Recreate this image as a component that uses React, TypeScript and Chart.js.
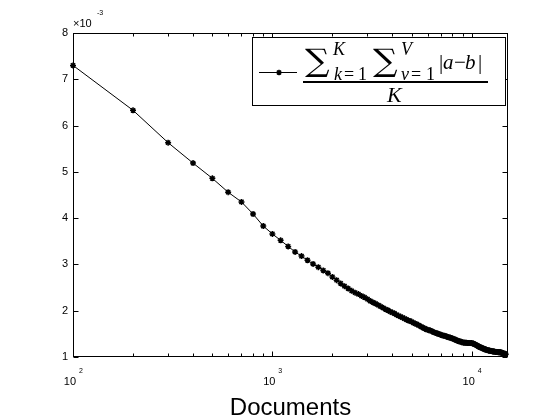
import React, { useEffect, useRef } from "react";
import { Chart, registerables } from "chart.js";

Chart.register(...registerables);

// Number of documents (x axis, logarithmic)
const documents: number[] = [
  100, 200, 300, 400, 500, 600, 700, 800, 900, 1000,
  1100, 1200, 1300, 1400, 1500, 1600, 1700, 1800, 1900, 2000,
  2100, 2200, 2300, 2400, 2500, 2600, 2700, 2800, 2900, 3000,
  3100, 3200, 3300, 3400, 3500, 3600, 3700, 3800, 3900, 4000,
  4100, 4200, 4300, 4400, 4500, 4600, 4700, 4800, 4900, 5000,
  5100, 5200, 5300, 5400, 5500, 5600, 5700, 5800, 5900, 6000,
  6100, 6200, 6300, 6400, 6500, 6600, 6700, 6800, 6900, 7000,
  7100, 7200, 7300, 7400, 7500, 7600, 7700, 7800, 7900, 8000,
  8100, 8200, 8300, 8400, 8500, 8600, 8700, 8800, 8900, 9000,
  9100, 9200, 9300, 9400, 9500, 9600, 9700, 9800, 9900, 10000,
  10100, 10200, 10300, 10400, 10500, 10600, 10700, 10800, 10900, 11000,
  11100, 11200, 11300, 11400, 11500, 11600, 11700, 11800, 11900, 12000,
  12100, 12200, 12300, 12400, 12500, 12600, 12700, 12800, 12900, 13000,
  13100, 13200, 13300, 13400, 13500, 13600, 13700, 13800, 13900, 14000,
  14100, 14200, 14300, 14400, 14500, 14600, 14700, 14800,
];

// Mean absolute difference (units of 1e-3)
const meanAbsDiff: number[] = [
  7.30, 6.33, 5.63, 5.19, 4.86, 4.56, 4.35, 4.09, 3.83, 3.66,
  3.52, 3.39, 3.27, 3.18, 3.09, 3.01, 2.94, 2.87, 2.81, 2.73,
  2.66, 2.59, 2.53, 2.48, 2.43, 2.39, 2.36, 2.32, 2.29, 2.25,
  2.21, 2.18, 2.15, 2.12, 2.09, 2.06, 2.03, 2.01, 1.98, 1.96,
  1.94, 1.91, 1.89, 1.87, 1.85, 1.83, 1.81, 1.79, 1.78, 1.76,
  1.74, 1.72, 1.71, 1.69, 1.67, 1.65, 1.63, 1.62, 1.60, 1.59,
  1.58, 1.57, 1.56, 1.54, 1.53, 1.52, 1.51, 1.50, 1.49, 1.48,
  1.47, 1.46, 1.46, 1.45, 1.44, 1.43, 1.42, 1.42, 1.41, 1.40,
  1.39, 1.38, 1.37, 1.36, 1.35, 1.34, 1.34, 1.33, 1.32, 1.32,
  1.31, 1.31, 1.31, 1.31, 1.30, 1.30, 1.30, 1.30, 1.30, 1.30,
  1.29, 1.29, 1.28, 1.27, 1.26, 1.25, 1.24, 1.23, 1.22, 1.21,
  1.21, 1.20, 1.19, 1.18, 1.18, 1.17, 1.16, 1.16, 1.15, 1.15,
  1.14, 1.14, 1.14, 1.13, 1.13, 1.13, 1.12, 1.12, 1.12, 1.12,
  1.11, 1.11, 1.11, 1.11, 1.11, 1.10, 1.10, 1.10, 1.10, 1.10,
  1.09, 1.09, 1.08, 1.08, 1.07, 1.07, 1.07, 1.06,
];

const yTicks: number[] = [1, 2, 3, 4, 5, 6, 7, 8];
const xMajorTicks: number[] = [100, 1000, 10000];
const xMajorExponents: string[] = ["2", "3", "4"];
const xMinorTicks: number[] = [200, 300, 400, 500, 600, 700, 800, 900, 2000, 3000, 4000, 5000, 6000, 7000, 8000, 9000];
const xLabel = "Documents";
const yScaleLabel = "×10";
const yScaleExponent = "-3";

const SANS = '"Liberation Sans", Arial, Helvetica, sans-serif';
const SERIF = '"Liberation Serif", "Times New Roman", serif';

function drawStar(ctx: CanvasRenderingContext2D, x: number, y: number, r: number) {
  const d = r * Math.SQRT1_2;
  ctx.beginPath();
  ctx.moveTo(x - r, y); ctx.lineTo(x + r, y);
  ctx.moveTo(x, y - r); ctx.lineTo(x, y + r);
  ctx.moveTo(x - d, y - d); ctx.lineTo(x + d, y + d);
  ctx.moveTo(x - d, y + d); ctx.lineTo(x + d, y - d);
  ctx.stroke();
}

function fitGlyph(ctx: CanvasRenderingContext2D, s: string, family: string, left: number, top: number, w: number, h: number) {
  ctx.font = `40px ${family}`;
  const m = ctx.measureText(s);
  const gh = m.actualBoundingBoxAscent + m.actualBoundingBoxDescent;
  const gw = m.actualBoundingBoxLeft + m.actualBoundingBoxRight;
  const sy = h / gh;
  const sx = w / gw;
  ctx.save();
  ctx.translate(left, top);
  ctx.scale(sx, sy);
  ctx.fillText(s, m.actualBoundingBoxLeft, m.actualBoundingBoxAscent);
  ctx.restore();
}

function t(ctx: CanvasRenderingContext2D, s: string, font: string, x: number, y: number) {
  ctx.font = font;
  ctx.fillText(s, x, y);
}

const decorPlugin = {
  id: "decor",
  afterDraw(chart: any) {
    const ctx: CanvasRenderingContext2D = chart.ctx;
    const { left, right, top, bottom } = chart.chartArea;
    const xs = chart.scales.x;
    const ys = chart.scales.y;
    ctx.save();
    ctx.strokeStyle = "#000";
    ctx.fillStyle = "#000";
    ctx.lineWidth = 1;
    const L = Math.round(left) + 0.5;
    const R = Math.round(right) - 0.5;
    const T = Math.round(top) + 0.5;
    const B = Math.round(bottom) - 0.5;
    ctx.strokeRect(L, T, R - L, B - T);
    ctx.beginPath();
    yTicks.forEach((v) => {
      const y = Math.round(ys.getPixelForValue(v)) + 0.5;
      ctx.moveTo(L, y); ctx.lineTo(L + 5, y);
      ctx.moveTo(R, y); ctx.lineTo(R - 5, y);
    });
    xMajorTicks.forEach((v) => {
      const x = Math.round(xs.getPixelForValue(v)) + 0.5;
      ctx.moveTo(x, B); ctx.lineTo(x, B - 5);
      ctx.moveTo(x, T); ctx.lineTo(x, T + 5);
    });
    xMinorTicks.forEach((v) => {
      const x = Math.round(xs.getPixelForValue(v)) + 0.5;
      ctx.moveTo(x, B); ctx.lineTo(x, B - 3);
      ctx.moveTo(x, T); ctx.lineTo(x, T + 3);
    });
    ctx.stroke();

    // x tick labels 10^n
    ctx.textBaseline = "alphabetic";
    xMajorTicks.forEach((v, i) => {
      const x = xs.getPixelForValue(v);
      ctx.textAlign = "right";
      t(ctx, "10", `11px ${SANS}`, x + 3, 385);
      ctx.textAlign = "left";
      t(ctx, xMajorExponents[i], `7px ${SANS}`, x + 6, 373);
    });

    // y multiplier
    ctx.textAlign = "left";
    t(ctx, yScaleLabel, `11px ${SANS}`, L - 0.5, 27);
    t(ctx, yScaleExponent, `7px ${SANS}`, 97, 15);

    // legend box
    ctx.fillStyle = "#fff";
    ctx.fillRect(252, 37, 254, 69);
    ctx.strokeRect(252.5, 37.5, 253, 68);
    ctx.fillStyle = "#000";
    ctx.beginPath();
    ctx.moveTo(259, 72.5); ctx.lineTo(297, 72.5);
    ctx.stroke();
    ctx.lineWidth = 1.5;
    drawStar(ctx, 279, 72.5, 2.8);
    ctx.lineWidth = 1;

    // formula
    const it = (px: number) => `italic ${px}px ${SERIF}`;
    const up = (px: number) => `${px}px ${SERIF}`;
    fitGlyph(ctx, "∑", '"DejaVu Serif", serif', 305, 48, 25, 29);
    fitGlyph(ctx, "∑", '"DejaVu Serif", serif', 373, 48, 25, 29);
    t(ctx, "K", it(18), 333, 55);
    t(ctx, "k", it(18), 334, 80);
    t(ctx, "=", up(18), 344, 80);
    t(ctx, "1", up(18), 358, 80);
    t(ctx, "V", it(18), 401, 55);
    t(ctx, "v", it(18), 401, 80);
    t(ctx, "=", up(18), 411, 80);
    t(ctx, "1", up(18), 426, 80);
    t(ctx, "|", up(21), 439, 69);
    t(ctx, "a", it(21), 443, 69);
    t(ctx, "−", up(21), 454, 69);
    t(ctx, "b", it(21), 465, 69);
    t(ctx, "|", up(21), 478, 69);
    ctx.fillRect(303, 81, 185, 2);
    t(ctx, "K", it(22), 387, 102);
    ctx.restore();
  },
};

export default function App() {
  const ref = useRef<HTMLCanvasElement | null>(null);
  useEffect(() => {
    if (!ref.current) return;
    const points = documents.map((d, i) => ({ x: d, y: meanAbsDiff[i] }));
    const chart = new Chart(ref.current, {
      type: "line",
      data: {
        datasets: [
          {
            label: "sum |a-b| / K",
            data: points,
            borderColor: "#000",
            backgroundColor: "#000",
            borderWidth: 1,
            pointStyle: "star",
            pointRadius: 3,
            pointBorderWidth: 1.5,
            pointBorderColor: "#000",
            tension: 0,
            clip: false,
            fill: false,
          } as any,
        ],
      },
      options: {
        responsive: false,
        animation: false,
        devicePixelRatio: 1,
        events: [],
        layout: { padding: { top: 33, right: 52, bottom: 0, left: 0 } },
        plugins: { legend: { display: false }, tooltip: { enabled: false } },
        scales: {
          x: {
            type: "logarithmic",
            min: 100,
            max: 15200,
            ticks: { display: false },
            grid: { display: false },
            border: { display: false },
            title: {
              display: true,
              text: xLabel,
              color: "#000",
              font: { size: 24, family: SANS, lineHeight: 1.0 },
              padding: 0,
            },
            afterFit: (s: any) => { s.height = 63; },
          },
          y: {
            type: "linear",
            min: 1,
            max: 8,
            ticks: { stepSize: 1, color: "#000", font: { size: 11, family: SANS }, padding: 5 },
            grid: { drawOnChartArea: false, drawTicks: false },
            border: { display: false },
            afterFit: (s: any) => { s.width = 73; },
          },
        },
      } as any,
      plugins: [decorPlugin],
    });
    return () => chart.destroy();
  }, []);
  return (
    <div style={{ position: "absolute", left: 0, top: 0, width: 560, height: 420, background: "#fff" }}>
      <canvas ref={ref} width={560} height={420} style={{ display: "block" }} />
    </div>
  );
}
